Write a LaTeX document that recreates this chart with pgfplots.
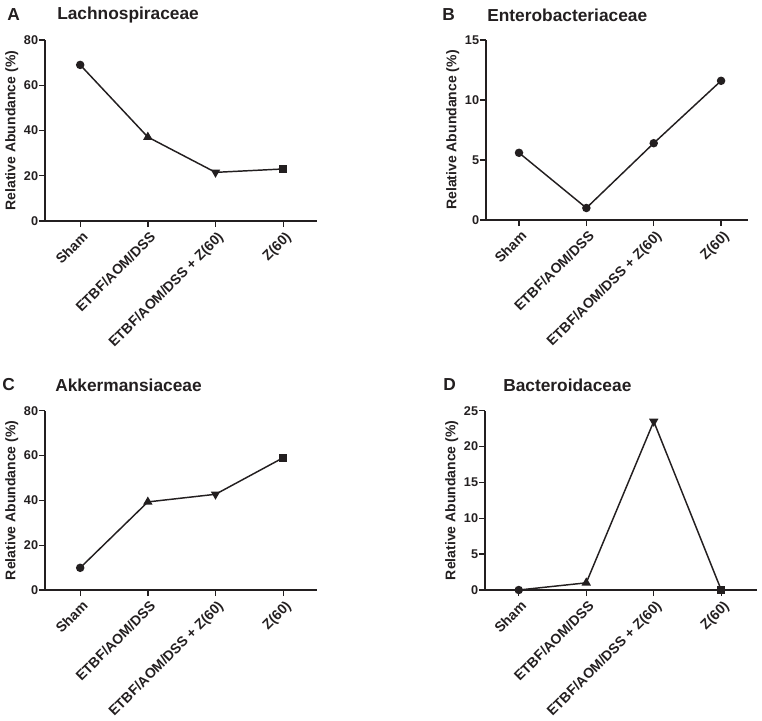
\documentclass[border=0pt]{standalone}
\usepackage{fontspec}
\setmainfont{Liberation Sans}
\usepackage{pgfplots}
\pgfplotsset{compat=1.18}
\definecolor{txt}{HTML}{231F20}
\pgfplotsset{panel/.style={
  scale only axis,
  axis x line*=bottom, axis y line*=left,
  xtick={0,1,2,3},
  xticklabels={Sham, ETBF/AOM/DSS, ETBF/AOM/DSS + Z(60), Z(60)},
  xticklabel style={rotate=45, anchor=north east, font=\fontsize{10.5}{12}\selectfont\bfseries, text=txt, inner sep=0pt, xshift=-1.1pt, yshift=-2.5pt},
  yticklabel style={font=\fontsize{9.5}{11}\selectfont\bfseries, text=txt, inner sep=0.5pt},
  ylabel={Relative Abundance (\%)},
  ylabel style={font=\fontsize{10.5}{12}\selectfont\bfseries, text=txt, at={(axis description cs:0,0.5)}, anchor=center, yshift=25pt},
  tick align=outside, major tick length=4.5pt,
  every tick/.style={line width=1pt, color=txt},
  axis line style={line width=1.1pt, color=txt},
  /pgf/number format/assume math mode=true,
  ymin=0, clip=false,
  every axis plot/.append style={line width=1.1pt, color=txt},
}}
\tikzset{ttl/.style={anchor=west, inner sep=0pt, font=\fontsize{13}{15}\selectfont\bfseries, text=txt}}
\begin{document}
\begin{tikzpicture}
\useasboundingbox (0,0) rectangle (571.5pt,-540pt);
% Panel A
\node[ttl] at (5.25pt,-11.25pt) {A};
\node[ttl] at (42.75pt,-11.25pt) {Lachnospiraceae};
\begin{axis}[panel, at={(33.75pt,-165.75pt)}, anchor=south west,
  width=204pt, height=135.75pt, xmin=-0.52, xmax=3.5, ymax=80, ytick={0,20,40,60,80}]
\addplot[mark=none] coordinates {(0,69) (1,37.1) (2,21.5) (3,23)};
\addplot[only marks, mark=*, mark size=2.6pt] coordinates {(0,69)};
\addplot[only marks, mark=triangle*, mark size=3pt] coordinates {(1,37.1)};
\addplot[only marks, mark=triangle*, mark size=3pt, mark options={rotate=180}] coordinates {(2,21.5)};
\addplot[only marks, mark=square*, mark size=2.6pt] coordinates {(3,23)};
\end{axis}
% Panel B
\node[ttl] at (331.5pt,-11.25pt) {B};
\node[ttl] at (365.25pt,-11.25pt) {Enterobacteriaceae};
\begin{axis}[panel, at={(364.5pt,-165pt)}, anchor=south west,
  width=196.5pt, height=135pt, xmin=-0.49, xmax=3.4, ymax=15, ytick={0,5,10,15}]
\addplot[mark=*, mark size=2.6pt] coordinates {(0,5.6) (1,1.0) (2,6.4) (3,11.6)};
\end{axis}
% Panel C
\node[ttl] at (1.5pt,-288.75pt) {C};
\node[ttl] at (41.25pt,-288.75pt) {Akkermansiaceae};
\begin{axis}[panel, at={(33.75pt,-442.5pt)}, anchor=south west,
  width=204pt, height=134.5pt, xmin=-0.52, xmax=3.5, ymax=80, ytick={0,20,40,60,80}]
\addplot[mark=none] coordinates {(0,9.9) (1,39.3) (2,42.7) (3,59)};
\addplot[only marks, mark=*, mark size=2.6pt] coordinates {(0,9.9)};
\addplot[only marks, mark=triangle*, mark size=3pt] coordinates {(1,39.3)};
\addplot[only marks, mark=triangle*, mark size=3pt, mark options={rotate=180}] coordinates {(2,42.7)};
\addplot[only marks, mark=square*, mark size=2.6pt] coordinates {(3,59)};
\end{axis}
% Panel D
\node[ttl] at (332.25pt,-288.75pt) {D};
\node[ttl] at (377.25pt,-288.75pt) {Bacteroidaceae};
\begin{axis}[panel, at={(363.75pt,-442.5pt)}, anchor=south west,
  width=204pt, height=134.5pt, xmin=-0.5, xmax=3.53, ymax=25, ytick={0,5,10,15,20,25}]
\addplot[mark=none] coordinates {(0,0) (1,1.0) (2,23.5) (3,0)};
\addplot[only marks, mark=*, mark size=2.6pt] coordinates {(0,0)};
\addplot[only marks, mark=triangle*, mark size=3pt] coordinates {(1,1.0)};
\addplot[only marks, mark=triangle*, mark size=3pt, mark options={rotate=180}] coordinates {(2,23.5)};
\addplot[only marks, mark=square*, mark size=2.6pt] coordinates {(3,0)};
\end{axis}
\end{tikzpicture}
\end{document}
